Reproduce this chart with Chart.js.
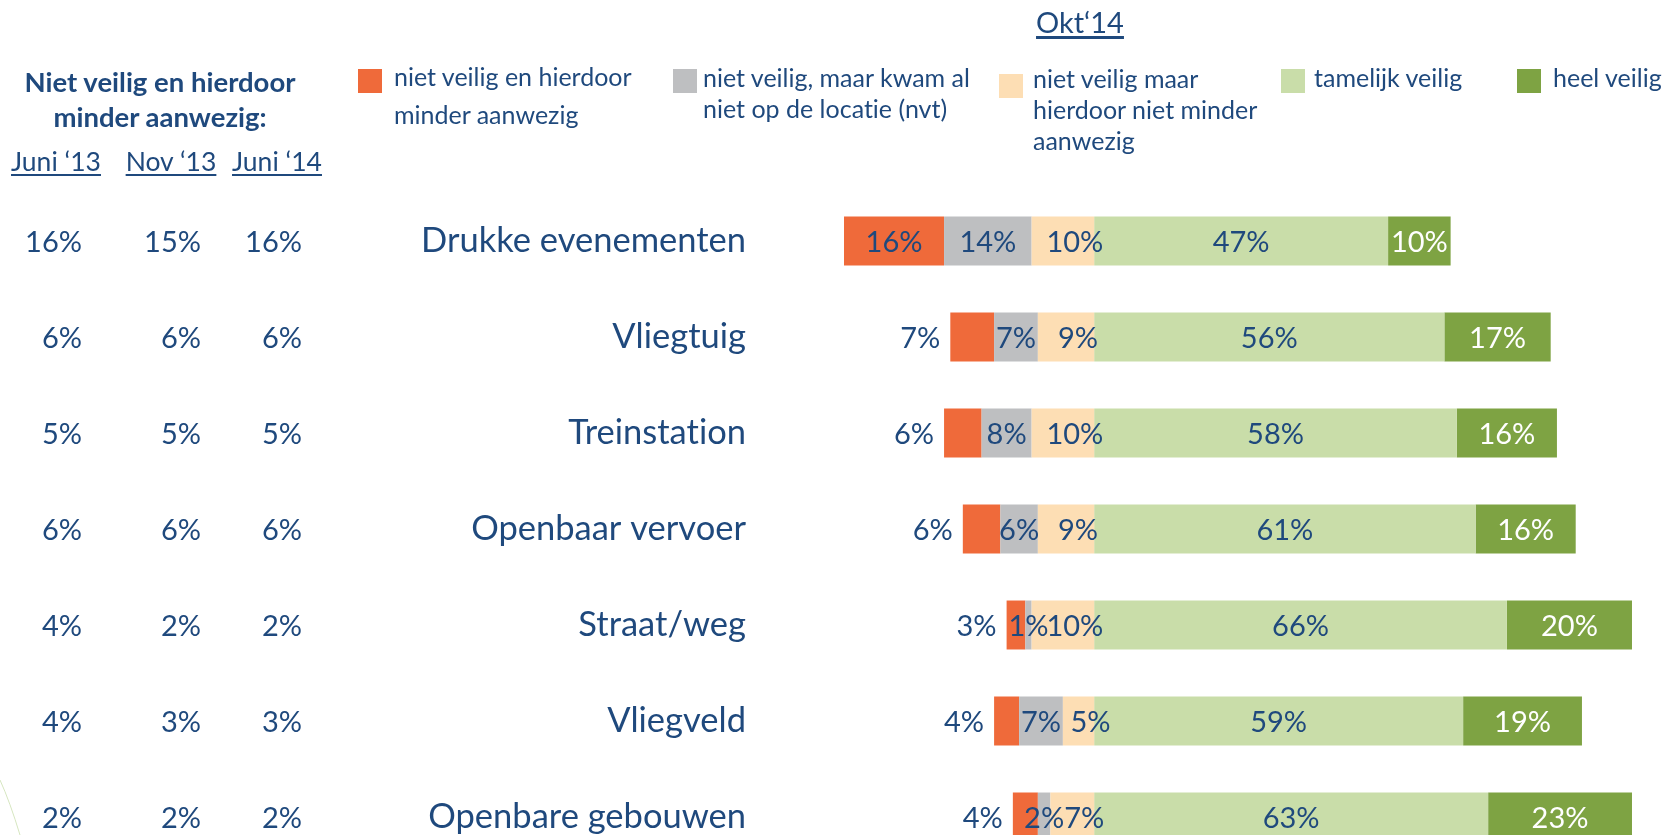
<!DOCTYPE html>
<html>
<head>
<meta charset="utf-8">
<script src="https://cdn.jsdelivr.net/npm/chart.js@4/dist/chart.umd.min.js"></script>
<style>
    html, body { margin: 0; padding: 0; background: #fff; }
    #page { position: relative; width: 1663px; height: 835px; overflow: hidden; font-family: Lato, "Open Sans", sans-serif; color: #1F497D; font-variant-ligatures: none; }
    #chartBox { position: absolute; left: 0; top: 0; width: 1663px; height: 880px; }
    .txt { position: absolute; white-space: nowrap; font-size: 25px; }
    .sq { position: absolute; width: 24px; height: 24px; }
    .ul { text-decoration: underline; text-decoration-thickness: 2px; text-underline-offset: 3px; }
</style>
</head>
<body>
<div id="page">
    <div id="chartBox"><canvas id="graphCanvas"></canvas></div>

    <div class="txt" style="left:10px; top:64px; width:300px; text-align:center; font-size:27.5px; font-weight:bold; line-height:35px;">Niet veilig en hierdoor<br>minder aanwezig:</div>
    <div class="txt ul" style="left:6px; top:149px; width:100px; text-align:center; font-size:26.5px; line-height:24px;">Juni ‘13</div>
    <div class="txt ul" style="left:121px; top:149px; width:100px; text-align:center; font-size:26.5px; line-height:24px;">Nov ‘13</div>
    <div class="txt ul" style="left:227px; top:149px; width:100px; text-align:center; font-size:26.5px; line-height:24px;">Juni ‘14</div>

    <div class="txt ul" style="left:1030px; top:8px; width:100px; text-align:center; font-size:29px; line-height:27px; text-decoration-thickness:3px;">Okt‘14</div>

    <div class="sq" style="left:358px; top:69px; background:#EF6A3A;"></div>
    <div class="txt" style="left:394px; top:58px; line-height:37.7px;">niet veilig en hierdoor<br>minder aanwezig</div>
    <div class="sq" style="left:673px; top:69px; background:#BEBFC1;"></div>
    <div class="txt" style="left:703px; top:62px; line-height:31px;">niet veilig, maar kwam al<br>niet op de locatie (nvt)</div>
    <div class="sq" style="left:999px; top:74px; background:#FDDEB4;"></div>
    <div class="txt" style="left:1033px; top:62.5px; line-height:31px;">niet veilig maar<br>hierdoor niet minder<br>aanwezig</div>
    <div class="sq" style="left:1281px; top:69px; background:#C9DDA9;"></div>
    <div class="txt" style="left:1314px; top:62px; line-height:31px;">tamelijk veilig</div>
    <div class="sq" style="left:1517px; top:69px; background:#7EA343;"></div>
    <div class="txt" style="left:1553px; top:62px; line-height:31px;">heel veilig</div>

    <svg style="position:absolute; left:0; top:770px;" width="40" height="65">
        <path d="M0 10 Q 10 32 20 65" stroke="#D6E6C0" stroke-width="1" fill="none"/>
    </svg>
</div>

<script>
// Okt '14 answers, in %
var categories = ['Drukke evenementen', 'Vliegtuig', 'Treinstation', 'Openbaar vervoer', 'Straat/weg', 'Vliegveld', 'Openbare gebouwen'];
var nietVeiligMinder = [16, 7, 6, 6, 3, 4, 4];
var nietVeiligNvt = [14, 7, 8, 6, 1, 7, 2];
var nietVeiligNietMinder = [10, 9, 10, 9, 10, 5, 7];
var tamelijkVeilig = [47, 56, 58, 61, 66, 59, 63];
var heelVeilig = [10, 17, 16, 16, 20, 19, 23];

// earlier measurements of "niet veilig en hierdoor minder aanwezig"
var juni13 = [16, 6, 5, 6, 4, 4, 2];
var nov13 = [15, 6, 5, 6, 2, 3, 2];
var juni14 = [16, 6, 5, 6, 2, 3, 2];

var textBlue = '#1F497D';

function neg(arr) {
    return arr.map(function (v) { return -v; });
}

// draws the % labels on the bars, the category names and the older columns
var labelPlugin = {
    id: 'labels',
    afterDatasetsDraw: function (chart) {
        var ctx = chart.ctx;
        var yScale = chart.scales.y;
        ctx.save();
        ctx.textBaseline = 'middle';
        ctx.font = '29px Lato';

        chart.data.datasets.forEach(function (ds, di) {
            var meta = chart.getDatasetMeta(di);
            meta.data.forEach(function (bar, i) {
                var v = Math.abs(ds.data[i]);
                var txt = v + '%';
                var left = Math.min(bar.x, bar.base);
                var w = Math.abs(bar.x - bar.base);
                var cx = left + w / 2;
                var y = bar.y + 2;
                ctx.fillStyle = ds.labelColor;
                if (ds.key === 'minder' && w < ctx.measureText(txt).width + 8) {
                    ctx.textAlign = 'right';
                    ctx.fillText(txt, left - 10, y);
                    return;
                }
                if (ds.key === 'nietMinder') cx += 12;
                ctx.textAlign = 'center';
                ctx.fillText(txt, cx, y);
            });
        });

        ctx.fillStyle = textBlue;
        ctx.textAlign = 'right';
        categories.forEach(function (c, i) {
            var y = yScale.getPixelForValue(i) + 2;
            ctx.font = '29px Lato';
            ctx.fillText(juni13[i] + '%', 82, y);
            ctx.fillText(nov13[i] + '%', 201, y);
            ctx.fillText(juni14[i] + '%', 302, y);
            ctx.font = '34.5px Lato';
            ctx.fillText(c, 746, y - 2);
        });
        ctx.restore();
    }
};

var chartdata = {
    labels: categories,
    datasets: [
        { key: 'nietMinder', data: neg(nietVeiligNietMinder), backgroundColor: '#FDDEB4', labelColor: textBlue },
        { key: 'nvt', data: neg(nietVeiligNvt), backgroundColor: '#BEBFC1', labelColor: textBlue },
        { key: 'minder', data: neg(nietVeiligMinder), backgroundColor: '#EF6A3A', labelColor: textBlue },
        { key: 'tamelijk', data: tamelijkVeilig, backgroundColor: '#C9DDA9', labelColor: textBlue },
        { key: 'heel', data: heelVeilig, backgroundColor: '#7EA343', labelColor: '#FFFFFF' }
    ]
};

chartdata.datasets.forEach(function (ds) {
    ds.barPercentage = 0.51;
    ds.categoryPercentage = 1;
    ds.borderWidth = 0;
});

var barGraph = new Chart(document.getElementById('graphCanvas'), {
    type: 'bar',
    data: chartdata,
    options: {
        indexAxis: 'y',
        responsive: true,
        maintainAspectRatio: false,
        animation: false,
        layout: { padding: { left: 844, right: 6, top: 193, bottom: 15 } },
        plugins: { legend: { display: false }, tooltip: { enabled: false } },
        scales: {
            x: { display: false, stacked: true, min: -40, max: 90 },
            y: { display: false, stacked: true }
        }
    },
    plugins: [labelPlugin]
});
</script>
</body>
</html>
